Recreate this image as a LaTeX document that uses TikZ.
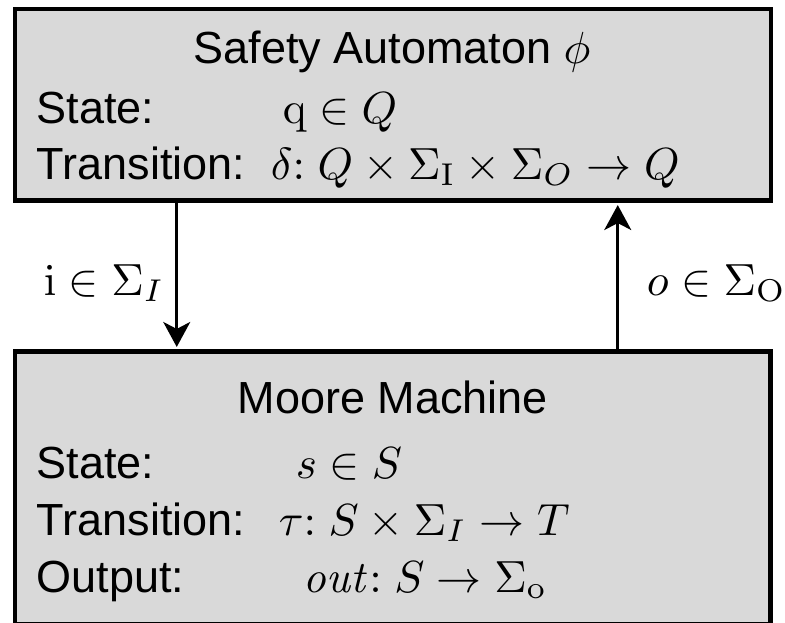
\documentclass[tikz,border=0pt]{standalone}
\usepackage[no-math]{fontspec}
\setmainfont{Liberation Sans}
\usetikzlibrary{arrows.meta}
\definecolor{boxgray}{HTML}{D9D9D9}
\tikzset{
  blockbox/.style={draw=black, fill=boxgray, line width=4.5pt, inner sep=0pt, rectangle},
  txt/.style={font=\fontsize{10}{12}\selectfont, inner sep=0pt, anchor=base west, scale=4.5, transform shape},
  ttl/.style={font=\fontsize{10}{12}\selectfont, inner sep=0pt, anchor=base, scale=4.5, transform shape},
  arr/.style={line width=2.7pt, -{Stealth[length=25pt, width=27pt, inset=7pt]}, shorten >=2.3pt}
}
\begin{document}
\begin{tikzpicture}[x=1pt, y=-1pt]
\useasboundingbox (0,0) rectangle (785,622);
\begin{scope}
\clip (0,0) rectangle (785,622);
% boxes
\node[blockbox, minimum width=756pt, minimum height=191.5pt] (top) at (393,104.75) {};
\node[blockbox, minimum width=755.5pt, minimum height=273pt] (bot) at (392.75,488) {};
% arrows
\draw[arr] ([xshift=164pt]top.south west) -- ([xshift=164pt]bot.north west);
\draw[arr] ([xshift=605pt]bot.north west) -- ([xshift=605pt]top.south west);
\end{scope}
% top box text
\node[ttl] (t1) at (392,63) {Safety Automaton $\phi$};
\node[txt] (t2) at (36,123) {State:};
\node[txt] (t3) at (282,123) {$\mathrm{q} \in Q$};
\node[txt] (t4) at (36,179) {Transition:};
\node[txt] (t5) at (270,179) {$\delta{:}\;Q \times \Sigma_{\mathrm{I}} \times \Sigma_{O} \to Q$};
% labels
\node[txt] (l1) at (43,295) {$\mathrm{i} \in \Sigma_I$};
\node[txt] (l2) at (646,295) {$o \in \Sigma_{\mathrm{O}}$};
% bottom box text
\node[ttl] (b1) at (393,413) {Moore Machine};
\node[txt] (b2) at (36,478) {State:};
\node[txt] (b3) at (295,478) {$s \in S$};
\node[txt] (b4) at (36,535) {Transition:};
\node[txt] (b5) at (278,535) {$\tau{:}\;S \times \Sigma_I \to T$};
\node[txt] (b6) at (36,592) {Output:};
\node[txt] (b7) at (302,592) {$\mathit{out}{:}\;S \to \Sigma_{\mathrm{o}}$};
\end{tikzpicture}
\end{document}
